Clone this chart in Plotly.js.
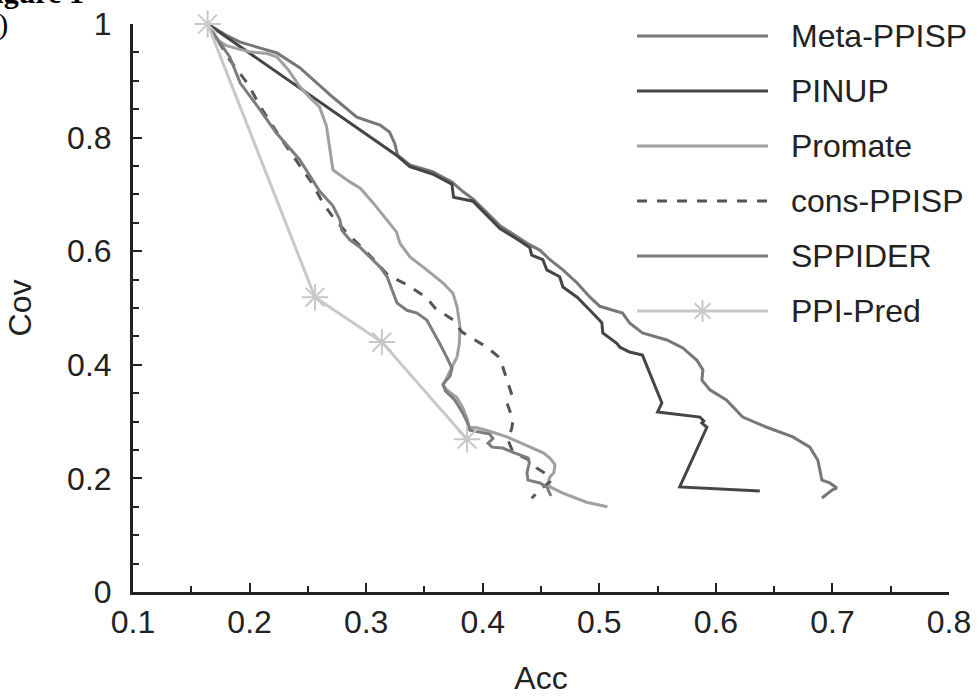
<!DOCTYPE html>
<html>
<head>
<meta charset="utf-8">
<script src="https://cdn.plot.ly/plotly-3.0.1.min.js"></script>
<style>html,body{margin:0;padding:0;background:#fff;}#chart{width:979px;height:696px;}</style>
</head>
<body>
<div id="chart"></div>
<script>
// ---- Data (Acc on x, Cov on y) ----
const seriesNames = ["Meta-PPISP", "PINUP", "Promate", "cons-PPISP", "SPPIDER", "PPI-Pred"];

const metaAcc = [0.164,0.18,0.192,0.2235,0.243,0.2715,0.292,0.312,0.320,0.3245,0.327,0.3375,0.357,0.3736,0.383,0.3916,0.4148,0.432,0.4405,0.449,0.4576,0.4688,0.481,0.492,0.5005,0.5117,0.52,0.526,0.537,0.558,0.5717,0.5837,0.5889,0.588,0.5948,0.609,0.623,0.6437,0.666,0.6806,0.6875,0.691,0.6977,0.7038,0.70,0.691];
const metaCov = [1.0,0.98,0.968,0.949,0.923,0.871,0.836,0.822,0.81,0.79,0.769,0.752,0.740,0.722,0.705,0.692,0.645,0.622,0.611,0.602,0.585,0.567,0.544,0.519,0.503,0.496,0.491,0.4736,0.456,0.4437,0.4296,0.408,0.391,0.373,0.356,0.338,0.308,0.29,0.273,0.255,0.232,0.197,0.192,0.183,0.18,0.1655];

const pinupAcc = [0.164,0.326,0.3375,0.357,0.3736,0.375,0.3916,0.4148,0.432,0.4405,0.442,0.4516,0.455,0.466,0.4688,0.481,0.492,0.5022,0.503,0.515,0.5177,0.526,0.537,0.5537,0.55,0.5863,0.5897,0.588,0.5923,0.569,0.6377];
const pinupCov = [1.0,0.769,0.749,0.736,0.718,0.695,0.688,0.640,0.618,0.606,0.593,0.585,0.567,0.555,0.537,0.519,0.496,0.474,0.456,0.438,0.431,0.4225,0.417,0.333,0.317,0.308,0.301,0.2975,0.290,0.185,0.178];

const promateAcc = [0.164,0.170,0.18,0.2,0.215,0.2235,0.233,0.243,0.252,0.26,0.266,0.269,0.2715,0.286,0.295,0.306,0.318,0.326,0.329,0.3376,0.352,0.366,0.3745,0.378,0.3805,0.38,0.378,0.3736,0.369,0.366,0.369,0.378,0.383,0.3865,0.3885,0.395,0.406,0.4208,0.432,0.443,0.452,0.4576,0.462,0.461,0.4576,0.456,0.4576,0.4688,0.489,0.507];
const promateCov = [1.0,0.975,0.962,0.951,0.948,0.942,0.92,0.89,0.87,0.854,0.82,0.773,0.743,0.722,0.711,0.685,0.655,0.634,0.614,0.59,0.567,0.544,0.526,0.502,0.467,0.438,0.414,0.396,0.3785,0.364,0.356,0.342,0.324,0.306,0.29,0.289,0.283,0.273,0.263,0.2535,0.245,0.236,0.224,0.21,0.2025,0.192,0.185,0.174,0.158,0.150];

const consAcc = [0.164,0.183,0.198,0.211,0.226,0.243,0.2535,0.263,0.2715,0.2835,0.297,0.303,0.3187,0.3358,0.352,0.359,0.3745,0.382,0.3907,0.4036,0.4147,0.419,0.425,0.4208,0.426,0.425,0.4216,0.426,0.4405,0.4465,0.456,0.4576,0.449,0.442];
const consCov = [1.0,0.937,0.896,0.849,0.801,0.75,0.72,0.685,0.66,0.632,0.606,0.593,0.558,0.540,0.518,0.5,0.479,0.458,0.447,0.431,0.412,0.385,0.347,0.333,0.303,0.289,0.268,0.246,0.232,0.218,0.206,0.194,0.18,0.165];

const sppiderAcc = [0.164,0.169,0.183,0.192,0.209,0.223,0.243,0.26,0.2715,0.2775,0.279,0.286,0.2947,0.303,0.312,0.318,0.323,0.3264,0.335,0.3436,0.352,0.357,0.363,0.369,0.3736,0.372,0.366,0.368,0.376,0.382,0.3865,0.389,0.3976,0.406,0.4088,0.4045,0.408,0.417,0.426,0.432,0.4388,0.440,0.438,0.4388,0.449,0.455,0.4585];
const sppiderCov = [1.0,0.984,0.942,0.896,0.849,0.808,0.761,0.706,0.680,0.655,0.637,0.620,0.607,0.590,0.572,0.555,0.526,0.509,0.496,0.491,0.479,0.461,0.438,0.414,0.394,0.380,0.366,0.354,0.338,0.318,0.300,0.285,0.282,0.278,0.270,0.262,0.255,0.2535,0.246,0.241,0.236,0.228,0.21,0.197,0.192,0.185,0.169];

const ppiAcc = [0.164,0.2561,0.3135,0.3865];
const ppiCov = [1.0,0.519,0.440,0.269];

const xTickVals = [0.1,0.2,0.3,0.4,0.5,0.6,0.7,0.8];
const xTickText = ["0.1","0.2","0.3","0.4","0.5","0.6","0.7","0.8"];
const yTickVals = [0,0.2,0.4,0.6,0.8,1];
const yTickText = ["0","0.2","0.4","0.6","0.8","1"];

// ---- Styles ----
const colors = ["#777777", "#454545", "#a0a0a0", "#555555", "#7d7d7d", "#c8c8c8"];
const dashes = ["solid", "solid", "solid", "10px,10px", "solid", "solid"];
const LW = 3;
const FONT = "Liberation Sans, Arial, Helvetica, sans-serif";
const INK = "#222222";
const FS = 32;

const xs = [metaAcc, pinupAcc, promateAcc, consAcc, sppiderAcc, ppiAcc];
const ys = [metaCov, pinupCov, promateCov, consCov, sppiderCov, ppiCov];

const traces = seriesNames.map((nm, i) => {
  const t = {
    type: "scatter",
    x: xs[i], y: ys[i], name: nm,
    mode: i === 5 ? "lines+markers" : "lines",
    line: {color: colors[i], width: LW, dash: dashes[i]},
    cliponaxis: false,
    showlegend: false,
    hoverinfo: "skip"
  };
  if (i === 5) {
    t.marker = {symbol: "asterisk-open", size: 22, color: colors[i], line: {color: colors[i], width: 2}};
  }
  return t;
});

// ---- Geometry (pixels) ----
const W = 979, H = 696;
const L = 133, R = 949, T = 24, B = 592;
const pw = R - L, ph = B - T;
const px2x = p => (p - L) / pw;
const px2y = p => (B - p) / ph;

// custom legend
const legRows = [36, 91, 146, 201, 256, 311];
const legX0 = 637, legX1 = 768, legTextX = 789;
const shapes = [];
const annotations = [];
seriesNames.forEach((nm, i) => {
  shapes.push({type: "line", xref: "paper", yref: "paper",
    x0: px2x(legX0), x1: px2x(legX1), y0: px2y(legRows[i]), y1: px2y(legRows[i]),
    line: {color: colors[i], width: LW, dash: dashes[i]}});
  annotations.push({xref: "paper", yref: "paper", x: px2x(legTextX), y: px2y(legRows[i]),
    xanchor: "left", yanchor: "middle", text: nm, showarrow: false,
    font: {family: FONT, size: FS, color: INK}});
});
// asterisk in legend
(function(){
  const cx = (legX0 + legX1) / 2, cy = legRows[5], r = 11, d = 7.8;
  const segs = [[0, -r, 0, r], [-d, -d, d, d], [-d, d, d, -d], [-r, 0, r, 0]];
  segs.forEach(s => shapes.push({type: "line", xref: "paper", yref: "paper",
    x0: px2x(cx + s[0]), y0: px2y(cy + s[1]), x1: px2x(cx + s[2]), y1: px2y(cy + s[3]),
    line: {color: colors[5], width: 2}}));
})();

// cut-off figure caption remnants at top-left (as in the source image)
annotations.push({xref: "paper", yref: "paper", x: px2x(-25), y: px2y(11), xanchor: "left", yanchor: "bottom",
  text: "<b>Figure 1</b>", showarrow: false, font: {family: "Liberation Serif, Times New Roman, serif", size: 30, color: "#000"}});
annotations.push({xref: "paper", yref: "paper", x: px2x(10), y: px2y(24), xanchor: "right", yanchor: "middle",
  text: "(a)", showarrow: false, font: {family: "Liberation Serif, Times New Roman, serif", size: 30, color: "#000"}});

const axisCommon = {
  showline: true, linewidth: 3, linecolor: INK, mirror: false,
  showgrid: false, zeroline: false,
  ticks: "inside", ticklen: 9, tickwidth: 2, tickcolor: INK,
  tickfont: {family: FONT, size: FS, color: INK},
  minor: {dtick: 0.05, ticks: "inside", ticklen: 6, tickwidth: 2, tickcolor: INK, showgrid: false},
  fixedrange: true
};

const layout = {
  width: W, height: H,
  margin: {l: L, r: W - R, t: T, b: H - B, pad: 0},
  paper_bgcolor: "#ffffff", plot_bgcolor: "#ffffff",
  showlegend: false,
  xaxis: Object.assign({}, axisCommon, {
    range: [0.1, 0.8], tickvals: xTickVals, ticktext: xTickText,
    minor: Object.assign({}, axisCommon.minor, {tick0: 0.1}),
    ticklabelstandoff: 0,
    title: {text: "Acc", font: {family: FONT, size: FS, color: INK}, standoff: 32}
  }),
  yaxis: Object.assign({}, axisCommon, {
    range: [0, 1], tickvals: yTickVals, ticktext: yTickText,
    minor: Object.assign({}, axisCommon.minor, {tick0: 0}),
    ticklabelstandoff: 12,
    title: {text: "Cov", font: {family: FONT, size: FS, color: INK}, standoff: 26}
  }),
  shapes: shapes,
  annotations: annotations
};

Plotly.newPlot("chart", traces, layout, {displayModeBar: false, staticPlot: true});
</script>
</body>
</html>
